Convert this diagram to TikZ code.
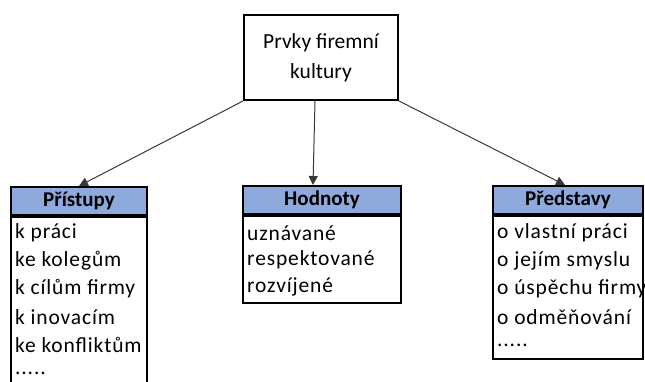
\documentclass[tikz,border=0pt]{standalone}
\usepackage{fontspec}
\setmainfont{Carlito}
\usetikzlibrary{arrows.meta, positioning}
\definecolor{hdrblue}{HTML}{8EA9DB}
\definecolor{lnkgray}{HTML}{383838}

\begin{document}
\begin{tikzpicture}[x=1pt, y=-1pt,
  box/.style={draw=black, line width=2pt, inner sep=0pt},
  header/.style={box, fill=hdrblue, minimum height=28pt,
    font=\fontsize{21}{25}\selectfont\bfseries},
  body/.style={box, fill=white, anchor=north},
  item/.style={anchor=west, inner sep=0pt,
    font=\fontsize{21.5}{25}\selectfont\addfontfeatures{LetterSpace=4}},
  link/.style={-{Triangle[length=9pt, width=9pt]}, line width=1pt, draw=lnkgray}]

% Page
\useasboundingbox (0,0) rectangle (645,381);
\clip (0,0) rectangle (645,381);

% Top box
\node[box, minimum width=154pt, minimum height=85pt, align=center,
      font=\fontsize{21.5}{30}\selectfont] (top) at (321,57.5)
  {Prvky firemní\\kultury};

% --- Přístupy ---
\node[header, minimum width=136pt] (hpri) at (79,201) {Přístupy};
\node[body, minimum width=136pt, minimum height=190pt] (bpri) at (hpri.south) {};
\node[item] (p1) at (15,233) {k práci};
\node[item] (p2) at (15,261) {ke kolegům};
\node[item] (p3) at (15,289) {k cílům firmy};
\node[item] (p4) at (15,317) {k inovacím};
\node[item] (p5) at (15,345) {ke konfliktům};
\node[item] (p6) at (15,373) {.....};

% --- Hodnoty ---
\node[header, minimum width=158pt] (hhod) at (322,200) {Hodnoty};
\node[body, minimum width=158pt, minimum height=87pt] (bhod) at (hhod.south) {};
\node[item] (h1) at (247,233) {uznávané};
\node[item] (h2) at (247,260) {respektované};
\node[item] (h3) at (247,287) {rozvíjené};

% --- Představy ---
\node[header, minimum width=150pt] (hpre) at (568,200) {Představy};
\node[body, minimum width=150pt, minimum height=143pt] (bpre) at (hpre.south) {};
\node[item] (r1) at (497,233) {o vlastní práci};
\node[item] (r2) at (497,261) {o jejím smyslu};
\node[item] (r3) at (497,289) {o úspěchu firmy};
\node[item] (r4) at (497,317) {o odměňování};
\node[item] (r5) at (497,345) {.....};

% redraw headers over bodies
\node[header, minimum width=136pt] at (hpri) {Přístupy};
\node[header, minimum width=158pt] at (hhod) {Hodnoty};
\node[header, minimum width=150pt] at (hpre) {Představy};

% Connectors
\draw[link] (top.south west) -- (hpri.north);
\draw[link] ([xshift=-6pt]top.south) -- (hhod.north -| 313,0);
\draw[link] (top.south east) -- ([xshift=-3pt]hpre.north);

\end{tikzpicture}
\end{document}
